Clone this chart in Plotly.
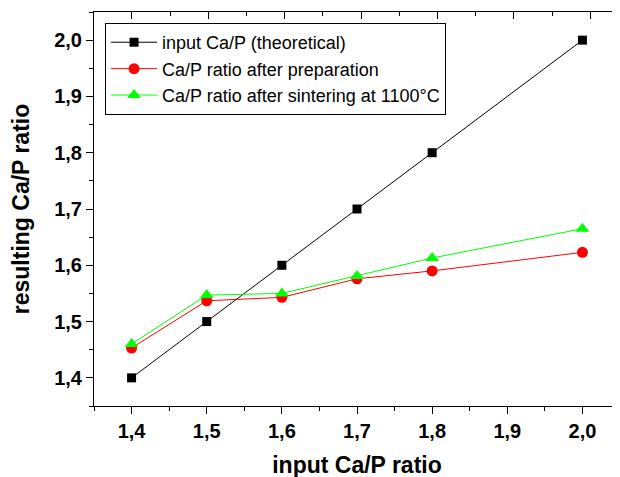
import plotly.graph_objects as go

x_input = [1.4, 1.5, 1.6, 1.7, 1.8, 2.0]
y_theoretical = [1.4, 1.5, 1.6, 1.7, 1.8, 2.0]
y_preparation = [1.453, 1.537, 1.543, 1.576, 1.590, 1.623]
y_sintering = [1.460, 1.547, 1.550, 1.581, 1.613, 1.665]

names = ["input Ca/P (theoretical)", "Ca/P ratio after preparation",
         "Ca/P ratio after sintering at 1100°C"]

font_family = "Liberation Sans, Arial, sans-serif"

fig = go.Figure()
fig.add_trace(go.Scatter(x=x_input, y=y_theoretical, name=names[0], mode="lines+markers",
                         line=dict(color="black", width=1),
                         marker=dict(symbol="square", size=9, color="black")))
fig.add_trace(go.Scatter(x=x_input, y=y_preparation, name=names[1], mode="lines+markers",
                         line=dict(color="#ff0000", width=1),
                         marker=dict(symbol="circle", size=11, color="#ff0000")))
fig.add_trace(go.Scatter(x=x_input, y=y_sintering, name=names[2], mode="lines+markers",
                         line=dict(color="#00ff00", width=1),
                         marker=dict(symbol="triangle-up", size=12, color="#00ff00")))
# invisible trace for top axis
fig.add_trace(go.Scatter(x=[1.4], y=[1.4], xaxis="x2", mode="markers",
                         marker=dict(opacity=0), showlegend=False, hoverinfo="skip"))

fig.update_layout(
    width=620, height=477,
    margin=dict(l=86, r=8, t=4, b=79, autoexpand=False),
    plot_bgcolor="white", paper_bgcolor="white",
    separators=",.",
    font=dict(family=font_family, color="black"),
    showlegend=True,
    legend=dict(x=0.021, y=0.972, xanchor="left", yanchor="top",
                bgcolor="white", bordercolor="black", borderwidth=1,
                font=dict(size=18, family=font_family), itemwidth=46,
                tracegroupgap=0),
    xaxis=dict(range=[1.35, 2.05], tickvals=[1.4, 1.5, 1.6, 1.7, 1.8, 1.9, 2.0], automargin=False,
               tickformat=".1f", ticks="outside", ticklen=7, tickwidth=1, tickcolor="black",
               showline=True, linecolor="black", linewidth=1, showgrid=False, zeroline=False,
               minor=dict(dtick=0.05, tick0=1.35, ticks="outside", ticklen=4, tickcolor="black", showgrid=False),
               tickfont=dict(size=20, family=font_family, weight="bold"),
               title=dict(text="<b>input Ca/P ratio</b>", font=dict(size=23, family=font_family), standoff=15)),
    xaxis2=dict(overlaying="x", side="top", range=[1.3503, 2.039], automargin=False,
                tickvals=[1.4, 1.5, 1.6, 1.7, 1.8, 1.9, 2.0], showticklabels=False,
                ticks="inside", ticklen=7, tickwidth=1, tickcolor="black",
                showline=True, linecolor="black", linewidth=1, showgrid=False, zeroline=False,
                minor=dict(dtick=0.05, tick0=1.35, ticks="inside", ticklen=4, tickcolor="black", showgrid=False)),
    yaxis=dict(range=[1.35, 2.05], tickvals=[1.4, 1.5, 1.6, 1.7, 1.8, 1.9, 2.0], automargin=False,
               tickformat=".1f", ticks="outside", ticklen=7, tickwidth=1, tickcolor="black",
               showline=True, linecolor="black", linewidth=1, showgrid=False, zeroline=False,
               minor=dict(dtick=0.05, tick0=1.35, ticks="outside", ticklen=4, tickcolor="black", showgrid=False),
               tickfont=dict(size=20, family=font_family, weight="bold"),
               title=dict(text="<b>resulting Ca/P ratio</b>", font=dict(size=23, family=font_family), standoff=18)),
)

fig.write_html("out.html")
